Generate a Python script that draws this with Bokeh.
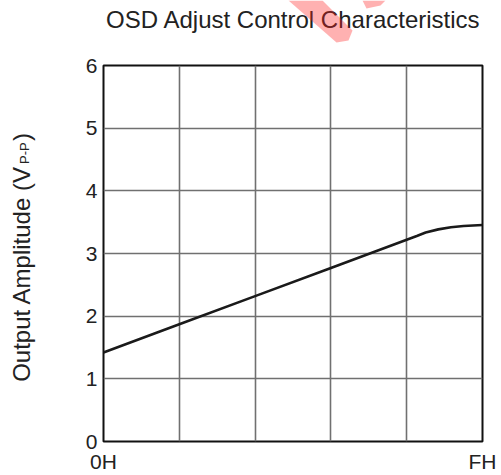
import math
from bokeh.plotting import figure
from bokeh.layouts import column, row
from bokeh.models import Range1d, FixedTicker, Label, PolyAnnotation
from bokeh.embed import file_html
from bokeh.resources import INLINE

# ---- data ----
x_vals = [0, 3, 6, 9, 12, 12.4, 12.75, 13.25, 13.75, 14.25, 15]
y_vals = [1.42, 1.87, 2.32, 2.77, 3.22, 3.28, 3.335, 3.385, 3.42, 3.44, 3.455]
y_ticks = [0, 1, 2, 3, 4, 5, 6]
x_ticks = [0, 15]
x_tick_labels = {0: "0H", 15: "FH"}
x_grid = [3, 6, 9, 12]
y_grid = [1, 2, 3, 4, 5]
title_text = "OSD Adjust Control Characteristics"
ylabel_main = "Output Amplitude (V"
ylabel_sub = "P-P"
ylabel_end = ")"

FONT = "Liberation Sans"
TXT = "#222222"


def blank_fig(w, h, y_top, y_bot, top_b=0, bot_b=0):
    f = figure(width=w, height=h, output_backend="svg", toolbar_location=None,
               x_range=Range1d(0, w), y_range=Range1d(y_bot, y_top),
               x_axis_location=None, y_axis_location=None,
               min_border=0, min_border_left=0, min_border_right=0,
               min_border_top=top_b, min_border_bottom=bot_b)
    f.outline_line_color = None
    f.grid.visible = False
    f.background_fill_color = "white"
    f.border_fill_color = "white"
    return f


# ---- top strip: title + watermark fragment (page pixel coordinates) ----
top = blank_fig(501, 50, 0, 50)
top.add_layout(Label(x=293, y=19, text=title_text, text_align="center",
                     text_baseline="alphabetic", text_font=FONT,
                     text_font_size="24px", text_color=TXT))
wm1_px = [(288, 0), (322, 0), (352, 30), (348, 40), (336, 42)]
wm2_px = [(362, 0), (385, 0), (380, 5), (366, 8)]
for poly in (wm1_px, wm2_px):
    top.add_layout(PolyAnnotation(xs=[a for a, b in poly], ys=[b for a, b in poly],
                                  fill_color="#ff2020", fill_alpha=0.35, line_color=None))

# ---- left strip: y axis label with subscript (frame aligned with main chart) ----
left = blank_fig(45, 425, 65, 443, top_b=15, bot_b=32)
left.add_layout(Label(x=20.5, y=383, text=ylabel_main, angle=math.pi / 2,
                      text_align="left", text_baseline="alphabetic", text_font=FONT,
                      text_font_size="24px", text_color=TXT))
left.add_layout(Label(x=24, y=164, text=ylabel_sub, angle=math.pi / 2,
                      text_align="left", text_baseline="alphabetic", text_font=FONT,
                      text_font_size="13px", text_color=TXT))
left.add_layout(Label(x=20.5, y=141, text=ylabel_end, angle=math.pi / 2,
                      text_align="left", text_baseline="alphabetic", text_font=FONT,
                      text_font_size="24px", text_color=TXT))

# ---- main chart ----
p = figure(width=456, height=425, output_backend="svg", toolbar_location=None,
           x_range=Range1d(0, 15), y_range=Range1d(0, 6),
           min_border_left=58, min_border_right=19, min_border_top=15, min_border_bottom=32)
p.background_fill_color = "white"
p.border_fill_color = "white"
p.outline_line_color = "#111111"
p.outline_line_width = 2

p.xaxis.ticker = FixedTicker(ticks=x_ticks)
p.xaxis.major_label_overrides = x_tick_labels
p.yaxis.ticker = FixedTicker(ticks=y_ticks)
for ax in (p.xaxis, p.yaxis):
    ax.axis_line_color = None
    ax.major_tick_line_color = None
    ax.minor_tick_line_color = None
    ax.major_tick_in = 0
    ax.major_tick_out = 0
    ax.major_label_text_font = FONT
    ax.major_label_text_font_size = "21px"
    ax.major_label_text_color = TXT
p.xaxis.major_label_standoff = 8
p.yaxis.major_label_standoff = 6

p.xgrid.ticker = FixedTicker(ticks=x_grid)
p.ygrid.ticker = FixedTicker(ticks=y_grid)
p.grid.grid_line_color = "#707070"
p.grid.grid_line_width = 1.6

p.line(x_vals, y_vals, line_color="#1a1a1a", line_width=2.6)

layout = column(top, row(left, p, spacing=0), spacing=0)
open("out.html", "w").write(file_html(layout, INLINE))
